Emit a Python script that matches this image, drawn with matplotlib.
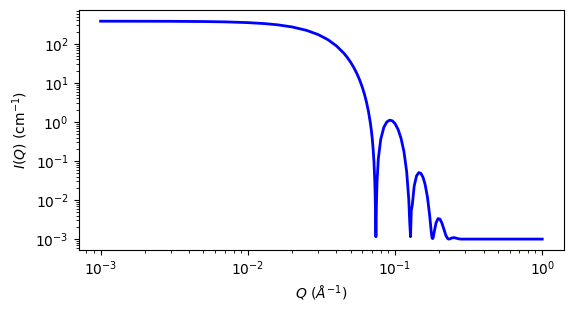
import matplotlib
matplotlib.use("Agg")
import matplotlib.pyplot as plt

# Q values (1/Angstrom)
q_values = [
    0.001, 0.002, 0.003, 0.005, 0.007, 0.010, 0.013, 0.016, 0.020, 0.025,
    0.030, 0.035, 0.040, 0.045, 0.0475, 0.050, 0.0525, 0.055, 0.0575, 0.060,
    0.062, 0.064, 0.066, 0.068, 0.069, 0.070, 0.071, 0.072, 0.073, 0.0735,
    0.0742, 0.0748, 0.0755, 0.077, 0.080, 0.084, 0.088, 0.092, 0.096, 0.100,
    0.105, 0.110, 0.115, 0.120, 0.124, 0.126, 0.1275, 0.129, 0.131, 0.135,
    0.140, 0.145, 0.150, 0.155, 0.160, 0.166, 0.172, 0.177, 0.1785, 0.180,
    0.1815, 0.184, 0.190, 0.196, 0.202, 0.208, 0.215, 0.222, 0.228, 0.232,
    0.237, 0.245, 0.252, 0.260, 0.270, 0.280, 0.300, 0.400, 0.600, 1.000,
]

# Intensity values I(Q) (1/cm)
intensity = [
    382.0, 381.0, 379.4, 374.3, 366.8, 351.4, 331.5, 307.9, 272.0, 223.2,
    174.2, 128.6, 89.1, 57.4, 44.6, 33.75, 24.8, 17.6, 11.97, 7.71,
    5.15, 3.24, 1.87, 0.948, 0.631, 0.386, 0.207, 0.0918, 0.0253, 0.0085,
    0.00115, 0.0079, 0.0292, 0.113, 0.361, 0.735, 1.005, 1.115, 1.07, 0.913,
    0.642, 0.376, 0.174, 0.0535, 0.0105, 0.0025, 0.00115, 0.0054, 0.0074, 0.0229,
    0.0415, 0.0505, 0.0483, 0.0383, 0.0255, 0.0121, 0.0040, 0.00133, 0.00107, 0.00103,
    0.00107, 0.00142, 0.0026, 0.00335, 0.00325, 0.0026, 0.00178, 0.00122, 0.00103, 0.00100,
    0.00102, 0.00108, 0.00109, 0.00106, 0.00102, 0.00100, 0.00100, 0.00100, 0.00100, 0.00100,
]

fig = plt.figure(figsize=(5.73, 3.13), dpi=100)
W, H = 573.0, 313.0
left, right, top, bottom = 78.5, 564.3, 10.3, 250.0
ax = fig.add_axes([left / W, (H - bottom) / H, (right - left) / W, (bottom - top) / H])

ax.plot(q_values, intensity, color="blue", linewidth=2)
ax.set_xscale("log")
ax.set_yscale("log")
ax.set_xlabel(r"$Q\ (\AA^{-1})$")
ax.set_ylabel(r"$I(Q)\ (\mathrm{cm}^{-1})$")

fig.savefig("out.png", dpi=100)
